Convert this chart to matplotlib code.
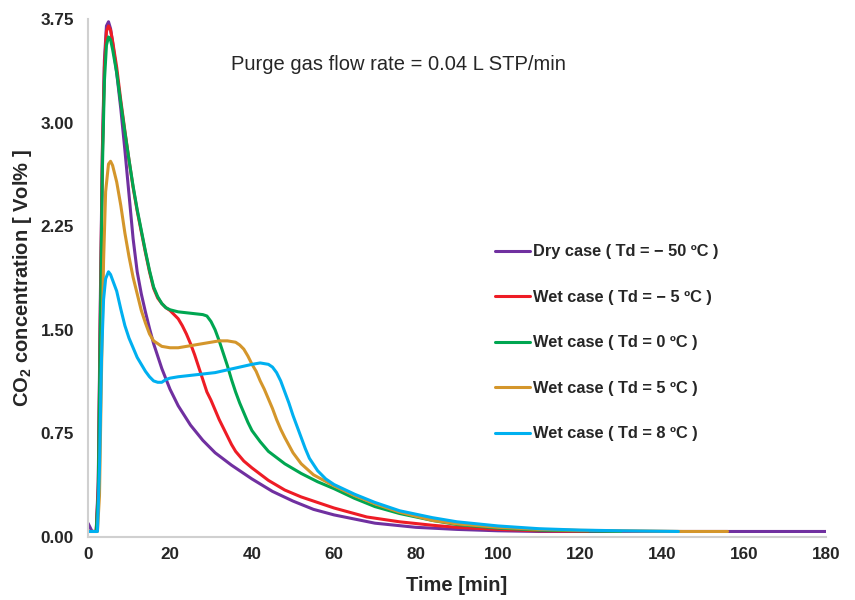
import matplotlib
matplotlib.use("Agg")
import matplotlib.pyplot as plt

plt.rcParams['font.family'] = ['Liberation Sans', 'DejaVu Sans']
plt.rcParams['mathtext.fontset'] = 'custom'
plt.rcParams['mathtext.rm'] = 'Liberation Sans'
plt.rcParams['mathtext.bf'] = 'Liberation Sans:bold'

labels = ["Dry case ( Td = − 50 ºC )", "Wet case ( Td = − 5 ºC )", "Wet case ( Td = 0 ºC )",
          "Wet case ( Td = 5 ºC )", "Wet case ( Td = 8 ºC )"]
colors = ["#7030A0", "#EE1C25", "#00A651", "#D4962B", "#00B0F0"]

t_dry = [0, 0.5, 1, 2, 2.5, 3, 3.5, 4, 4.5, 5, 5.5, 6, 7, 8, 9, 10, 11, 12, 13, 14, 15, 16, 18, 20,
         22, 25, 28, 31, 35, 40, 45, 50, 55, 60, 65, 70, 80, 90, 100, 110, 180]
v_dry = [0.10, 0.07, 0.04, 0.04, 0.4, 1.7, 2.8, 3.45, 3.70, 3.73, 3.68, 3.58, 3.36, 3.10, 2.80, 2.48,
         2.16, 1.92, 1.76, 1.63, 1.51, 1.40, 1.22, 1.07, 0.95, 0.81, 0.70, 0.61, 0.52, 0.42, 0.33, 0.26,
         0.20, 0.16, 0.13, 0.10, 0.07, 0.055, 0.045, 0.04, 0.04]

t_m5 = [0, 2, 2.5, 3, 3.5, 4, 4.5, 5, 5.5, 6, 7, 8, 9, 10, 11, 12, 13, 14, 15, 16, 17, 18, 19, 20, 21,
        22, 23, 24, 25, 26, 27, 28, 29, 30, 31, 32, 33, 34, 35, 36, 38, 40, 44, 48, 52, 56, 60, 68, 76,
        84, 90, 100, 110, 122]
v_m5 = [0.04, 0.04, 0.35, 1.6, 2.75, 3.4, 3.66, 3.70, 3.67, 3.59, 3.40, 3.16, 2.94, 2.73, 2.53, 2.36,
        2.21, 2.06, 1.92, 1.80, 1.73, 1.69, 1.66, 1.64, 1.61, 1.58, 1.53, 1.47, 1.40, 1.32, 1.23, 1.14,
        1.05, 0.99, 0.92, 0.85, 0.79, 0.73, 0.67, 0.62, 0.55, 0.50, 0.41, 0.34, 0.29, 0.25, 0.21, 0.145,
        0.11, 0.085, 0.07, 0.055, 0.045, 0.04]

t_0 = [0, 2, 2.5, 3, 3.5, 4, 4.5, 5, 5.5, 6, 7, 8, 9, 10, 11, 12, 13, 14, 15, 16, 17, 18, 19, 20, 22,
       25, 28, 29, 30, 31, 32, 33, 34, 35, 36, 37, 38, 39, 40, 42, 44, 48, 52, 56, 60, 65, 70, 76, 84,
       90, 100, 110, 120, 130]
v_0 = [0.04, 0.04, 0.3, 1.5, 2.65, 3.3, 3.56, 3.62, 3.60, 3.53, 3.36, 3.14, 2.93, 2.73, 2.54, 2.37,
       2.22, 2.07, 1.93, 1.81, 1.74, 1.69, 1.66, 1.645, 1.63, 1.62, 1.61, 1.60, 1.56, 1.50, 1.42, 1.33,
       1.24, 1.14, 1.05, 0.97, 0.90, 0.83, 0.77, 0.69, 0.62, 0.53, 0.46, 0.40, 0.35, 0.28, 0.22, 0.17,
       0.12, 0.09, 0.065, 0.05, 0.045, 0.04]

t_5 = [0, 2.3, 2.8, 3.3, 3.8, 4.3, 5, 5.5, 6, 7, 8, 9, 10, 11, 12, 13, 14, 15, 16, 17, 18, 20, 22, 24,
       26, 28, 30, 32, 34, 36, 37, 38, 39, 40, 41, 42, 43, 44, 45, 46, 47, 48, 50, 52, 55, 60, 65, 70,
       76, 84, 90, 100, 110, 120, 130, 145, 156]
v_5 = [0.04, 0.04, 0.3, 1.2, 2.0, 2.5, 2.70, 2.72, 2.69, 2.57, 2.40, 2.20, 2.03, 1.88, 1.76, 1.64, 1.55,
       1.47, 1.42, 1.40, 1.38, 1.37, 1.37, 1.38, 1.39, 1.40, 1.41, 1.42, 1.42, 1.41, 1.39, 1.36, 1.31,
       1.25, 1.20, 1.13, 1.07, 1.00, 0.93, 0.85, 0.78, 0.72, 0.61, 0.53, 0.45, 0.37, 0.30, 0.24, 0.18,
       0.12, 0.095, 0.07, 0.055, 0.048, 0.045, 0.04, 0.04]

t_8 = [0, 2.3, 2.8, 3.3, 3.8, 4.3, 5, 5.5, 6, 7, 8, 9, 10, 11, 12, 13, 14, 15, 16, 17, 18, 19, 20, 22,
       25, 28, 31, 34, 37, 40, 42, 44, 45, 46, 47, 48, 49, 50, 51, 52, 53, 54, 56, 58, 60, 65, 70, 76,
       84, 90, 100, 110, 120, 130, 144]
v_8 = [0.04, 0.04, 0.5, 1.3, 1.72, 1.87, 1.92, 1.90, 1.86, 1.78, 1.65, 1.53, 1.44, 1.37, 1.30, 1.25,
       1.20, 1.16, 1.13, 1.12, 1.12, 1.14, 1.15, 1.16, 1.17, 1.18, 1.19, 1.21, 1.23, 1.25, 1.26, 1.25,
       1.23, 1.19, 1.13, 1.05, 0.97, 0.88, 0.80, 0.72, 0.64, 0.57, 0.48, 0.42, 0.38, 0.31, 0.25, 0.19,
       0.14, 0.11, 0.08, 0.06, 0.05, 0.045, 0.04]

series = [(t_dry, v_dry), (t_m5, v_m5), (t_0, v_0), (t_5, v_5), (t_8, v_8)]

xticks = [0, 20, 40, 60, 80, 100, 120, 140, 160, 180]
yticks = [0.00, 0.75, 1.50, 2.25, 3.00, 3.75]

fig = plt.figure(figsize=(8.55, 6.0), dpi=100)
ax = fig.add_axes([88 / 855, 63 / 600, 738 / 855, 518 / 600])

for (t, v), lab, c in zip(series, labels, colors):
    ax.plot(t, v, color=c, lw=2.2, label=lab, solid_joinstyle='round', solid_capstyle='round')

ax.set_xlim(0, 180)
ax.set_ylim(0, 3.75)
ax.set_xticks(xticks)
ax.set_yticks(yticks)
ax.set_yticklabels([f"{y:.2f}" for y in yticks])
ax.tick_params(length=0, labelsize=12.3, colors='#262626')
ax.tick_params(axis='y', pad=10)
ax.tick_params(axis='x', pad=7.5)
for lbl in ax.get_xticklabels() + ax.get_yticklabels():
    lbl.set_fontweight('bold')
for s in ['top', 'right']:
    ax.spines[s].set_visible(False)
for s in ['left', 'bottom']:
    ax.spines[s].set_color('#d0d0d0')
    ax.spines[s].set_linewidth(1.5)

ax.set_xlabel("Time [min]", fontsize=14.5, fontweight='bold', color='#262626', labelpad=9.5)
ax.set_ylabel(r"CO$_\mathbf{2}$ concentration [ Vol% ]", fontsize=14.5, fontweight='bold',
              color='#262626', labelpad=4.5)

ax.text(0.42, 0.913, "Purge gas flow rate = 0.04 L STP/min", transform=ax.transAxes,
        ha='center', va='center', fontsize=14.5, color='#262626')

leg = ax.legend(loc='upper left', bbox_to_anchor=(0.5406, 0.581), frameon=False,
                handlelength=2.1, handletextpad=0.18, labelspacing=1.865, borderpad=0,
                prop={'weight': 'bold', 'size': 11.8})
for txt in leg.get_texts():
    txt.set_color('#262626')

fig.savefig("out.png", dpi=100)
